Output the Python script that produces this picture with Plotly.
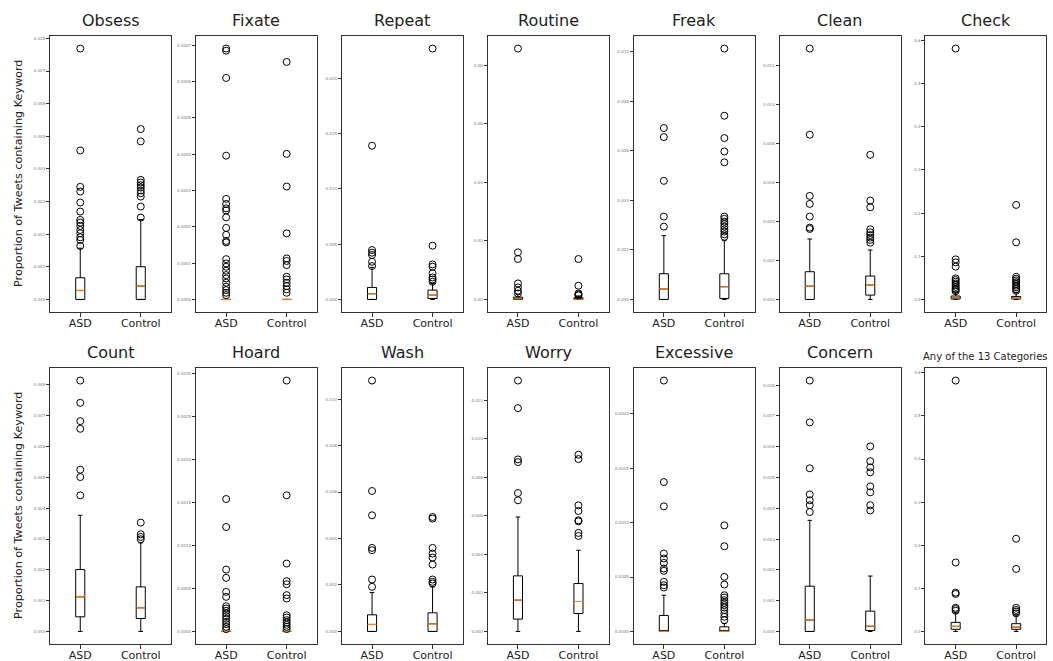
import plotly.graph_objects as go
from plotly.subplots import make_subplots

# ---- data -------------------------------------------------------------
groups = ["ASD", "Control"]
keywords = ["Obsess", "Fixate", "Repeat", "Routine", "Freak", "Clean", "Check",
            "Count", "Hoard", "Wash", "Worry", "Excessive", "Concern",
            "Any of the 13 Categories"]

# box statistics per keyword (same order as `keywords`)
asd_q1 = [0, 0, 0, 0, 0, 0, 0.001, 0.000475, 0, 0, 0.00064, 0, 0, 0.005]
asd_median = [0.000276, 0, 0.000514, 0.0002, 0.000418, 0.000685, 0.004, 0.001123,
              0, 0.000301, 0.001625, 0, 0.00037, 0.012]
asd_q3 = [0.000666, 0, 0.001088, 0.0008, 0.001038, 0.001421, 0.008, 0.002009,
          0, 0.000716, 0.002887, 0.000147, 0.00147, 0.021]
asd_low = [0, 0, 0, 0, 0, 0, 0, 0, 0, 0, 0, 0, 0, 0]
asd_high = [0.00157, 0, 0.0029, 0.0017, 0.002574, 0.003099, 0.017, 0.003769,
            0, 0.001676, 0.005946, 0.000333, 0.00361, 0.043]

ctl_q1 = [0, 0, 0.00009, 0, 0.00004, 0.000223, 0.001, 0.000421, 0, 0, 0.000933,
          0, 0.00003, 0.005]
ctl_median = [0.00041, 0, 0.000393, 0.0001, 0.000512, 0.000736, 0.003, 0.000767,
              0, 0.00033, 0.001556, 0, 0.00017, 0.010]
ctl_q3 = [0.001004, 0, 0.000846, 0.0006, 0.001038, 0.001199, 0.007, 0.001447,
          0, 0.000802, 0.002489, 0.0000428, 0.00066, 0.018]
ctl_low = [0, 0, 0, 0, 0, 0, 0, 0, 0, 0, 0, 0, 0, 0]
ctl_high = [0.00245, 0, 0.00145, 0.0012, 0.002372, 0.002534, 0.016, 0.002873,
            0, 0.00192, 0.004218, 0.0000734, 0.0018, 0.038]

# outliers per keyword
obsess_asd = [0.00769, 0.004567, 0.003451, 0.003308, 0.00297, 0.002693, 0.002437,
              0.002355, 0.002253, 0.00213, 0.002028, 0.001905, 0.001823, 0.001638]
obsess_ctl = [0.005222, 0.004844, 0.003666, 0.003584, 0.003502, 0.00343, 0.003338,
              0.003256, 0.003154, 0.002847, 0.002509]
fixate_asd = [0.000691, 0.000685, 0.00061, 0.000396, 0.000277, 0.000263, 0.000251,
              0.000245, 0.000226, 0.000197, 0.000178, 0.000161, 0.000157, 0.000111,
              0.0000993, 0.0000901, 0.0000791, 0.0000671, 0.0000579, 0.000046,
              0.000035, 0.0000258, 0.0000184, 0.000012]
fixate_ctl = [0.000654, 0.000401, 0.000311, 0.000182, 0.000113, 0.000106,
              0.0000947, 0.0000625, 0.0000552, 0.000046, 0.0000368, 0.0000276,
              0.0000184]
repeat_asd = [0.0139, 0.00447, 0.00423, 0.00402, 0.00341, 0.00302]
repeat_ctl = [0.02269, 0.00486, 0.00317, 0.00296, 0.00236, 0.00199, 0.00181, 0.0016]
routine_asd = [0.0858, 0.01611, 0.01383, 0.00549, 0.00411, 0.00297, 0.00206]
routine_ctl = [0.01383, 0.00469, 0.00206, 0.0017, 0.0014]
freak_asd = [0.006914, 0.00655, 0.004784, 0.003342, 0.002938]
freak_ctl = [0.01012, 0.00741, 0.00651, 0.00597, 0.00553, 0.00334, 0.00325, 0.00314,
             0.00305, 0.00294, 0.00283, 0.00274, 0.00263, 0.00253]
clean_asd = [0.01286, 0.008442, 0.005308, 0.004897, 0.004247, 0.003681, 0.003613]
clean_ctl = [0.007414, 0.005068, 0.004726, 0.003596, 0.00344, 0.0033, 0.00317,
             0.00305, 0.00291]
check_asd = [0.5813, 0.0929, 0.0859, 0.0759, 0.0488, 0.0449, 0.041, 0.037, 0.033,
             0.029, 0.025, 0.022, 0.019]
check_ctl = [0.219, 0.1324, 0.0526, 0.048, 0.044, 0.040, 0.036, 0.032, 0.028,
             0.024, 0.020]
count_asd = [0.008143, 0.00742, 0.006826, 0.006577, 0.005249, 0.005011, 0.004417]
count_ctl = [0.003532, 0.003154, 0.003067, 0.002992]
hoard_asd = [0.001539, 0.001214, 0.000719, 0.000623, 0.00046, 0.000402, 0.000294,
             0.000267, 0.00024, 0.000209, 0.000178, 0.000147, 0.000112, 0.000085,
             0.000054, 0.000027]
hoard_ctl = [0.002916, 0.001582, 0.000789, 0.000584, 0.000549, 0.000422, 0.000383,
             0.000189, 0.000162, 0.000131, 0.000104, 0.000077, 0.000054, 0.000027]
wash_asd = [0.0108, 0.006046, 0.005, 0.003596, 0.003496, 0.002235, 0.00192]
wash_ctl = [0.004928, 0.004857, 0.003596, 0.003352, 0.00318, 0.00288, 0.002235,
            0.002135, 0.002063]
worry_asd = [0.013034, 0.011599, 0.008937, 0.008799, 0.007191, 0.006811]
worry_ctl = [0.009179, 0.008954, 0.006551, 0.006258, 0.005774, 0.00572, 0.005117,
             0.004961]
excessive_asd = [0.002306, 0.001373, 0.00115, 0.000716, 0.00067, 0.00063, 0.000578,
                 0.000557, 0.000456, 0.000425, 0.000404]
excessive_ctl = [0.000975, 0.000783, 0.000502, 0.000431, 0.000333, 0.000312,
                 0.000287, 0.000263, 0.000242, 0.00022, 0.000196, 0.000165,
                 0.000135, 0.000104]
concern_asd = [0.00815, 0.00679, 0.0053, 0.00445, 0.00426, 0.0041, 0.00388]
concern_ctl = [0.00601, 0.00553, 0.00533, 0.00517, 0.00471, 0.00452, 0.0041, 0.00393]
any_asd = [0.582, 0.16, 0.09, 0.087, 0.055, 0.052, 0.048]
any_ctl = [0.215, 0.145, 0.055, 0.05, 0.046, 0.042]

outliers_asd = [obsess_asd, fixate_asd, repeat_asd, routine_asd, freak_asd,
                clean_asd, check_asd, count_asd, hoard_asd, wash_asd, worry_asd,
                excessive_asd, concern_asd, any_asd]
outliers_ctl = [obsess_ctl, fixate_ctl, repeat_ctl, routine_ctl, freak_ctl,
                clean_ctl, check_ctl, count_ctl, hoard_ctl, wash_ctl, worry_ctl,
                excessive_ctl, concern_ctl, any_ctl]

# y tick spacing and label format per panel
tick_step = [0.001, 0.0001, 0.005, 0.02, 0.002, 0.002, 0.1,
             0.001, 0.0005, 0.002, 0.002, 0.0005, 0.001, 0.1]
tick_fmt = [".3f", ".4f", ".3f", ".2f", ".3f", ".3f", ".1f",
            ".3f", ".4f", ".3f", ".3f", ".4f", ".3f", ".1f"]

y_title = "Proportion of Tweets containing Keyword"

# ---- layout geometry (pixels) ------------------------------------------
W, H = 1053, 661
left0, col_step, pw = 50, 145.9, 121
row_top, ph = [36, 368], 276
box_w = 0.15
positions = [1, 2]

font_family = "DejaVu Sans"
fig = make_subplots(rows=2, cols=7)

stats = {
    "ASD": (asd_q1, asd_median, asd_q3, asd_low, asd_high, outliers_asd),
    "Control": (ctl_q1, ctl_median, ctl_q3, ctl_low, ctl_high, outliers_ctl),
}

annotations = []
for k, name in enumerate(keywords):
    r, c = divmod(k, 7)
    n = k + 1
    xs = "" if n == 1 else str(n)
    ymax = 0.0
    for g, pos in zip(groups, positions):
        q1, med, q3, lo, hi, fl = stats[g]
        fig.add_trace(go.Box(
            x=[pos], q1=[q1[k]], median=[med[k]], q3=[q3[k]],
            lowerfence=[lo[k]], upperfence=[hi[k]],
            width=box_w, whiskerwidth=0.5, boxpoints=False,
            fillcolor="white", line=dict(color="black", width=1),
            showlegend=False, hoverinfo="skip"), row=r + 1, col=c + 1)
        fig.add_trace(go.Scatter(
            x=[pos - box_w / 2, pos + box_w / 2], y=[med[k], med[k]],
            mode="lines", line=dict(color="#ff7f0e", width=1.2),
            showlegend=False, hoverinfo="skip"), row=r + 1, col=c + 1)
        fig.add_trace(go.Scatter(
            x=[pos] * len(fl[k]), y=fl[k], mode="markers",
            marker=dict(symbol="circle-open", size=7, color="black",
                        line=dict(width=1, color="black")),
            showlegend=False, hoverinfo="skip"), row=r + 1, col=c + 1)
        ymax = max(ymax, hi[k], max(fl[k]))

    x0 = (left0 + c * col_step) / W
    x1 = (left0 + c * col_step + pw) / W
    ytop = 1 - row_top[r] / H
    ybot = 1 - (row_top[r] + ph) / H
    fig.layout[f"xaxis{xs}"].update(
        domain=[x0, x1], range=[0.5, 2.5], tickvals=positions, ticktext=groups,
        ticks="outside", ticklen=3.5, tickcolor="#333", showline=True,
        mirror=True, linecolor="#333", linewidth=1, showgrid=False,
        zeroline=False, ticklabelstandoff=-3,
        tickfont=dict(size=11, color="#222"))
    fig.layout[f"yaxis{xs}"].update(
        domain=[ybot, ytop], range=[-0.05 * ymax, 1.05 * ymax],
        dtick=tick_step[k], tick0=0, tickformat=tick_fmt[k],
        ticks="outside", ticklen=3, tickcolor="#333", showline=True,
        mirror=True, linecolor="#333", linewidth=1, showgrid=False,
        zeroline=False, tickfont=dict(size=4, color="#777"))

    small = k == len(keywords) - 1
    annotations.append(dict(
        text=name, xref="paper", yref="paper", x=(x0 + x1) / 2,
        y=ytop + 4 / H, xanchor="center", yanchor="bottom", showarrow=False,
        font=dict(size=10 if small else 16, color="#222", family=font_family)))

for r in range(2):
    annotations.append(dict(
        text=y_title, xref="paper", yref="paper", x=18 / W,
        y=1 - (row_top[r] + ph / 2) / H, xanchor="center", yanchor="middle",
        textangle=-90, showarrow=False,
        font=dict(size=11.2, color="#222", family=font_family)))

fig.update_layout(
    template="none", width=W, height=H,
    margin=dict(l=0, r=0, t=0, b=0),
    paper_bgcolor="white", plot_bgcolor="white",
    font=dict(family=font_family), annotations=annotations,
    boxmode="overlay")

fig.write_html("out.html")
